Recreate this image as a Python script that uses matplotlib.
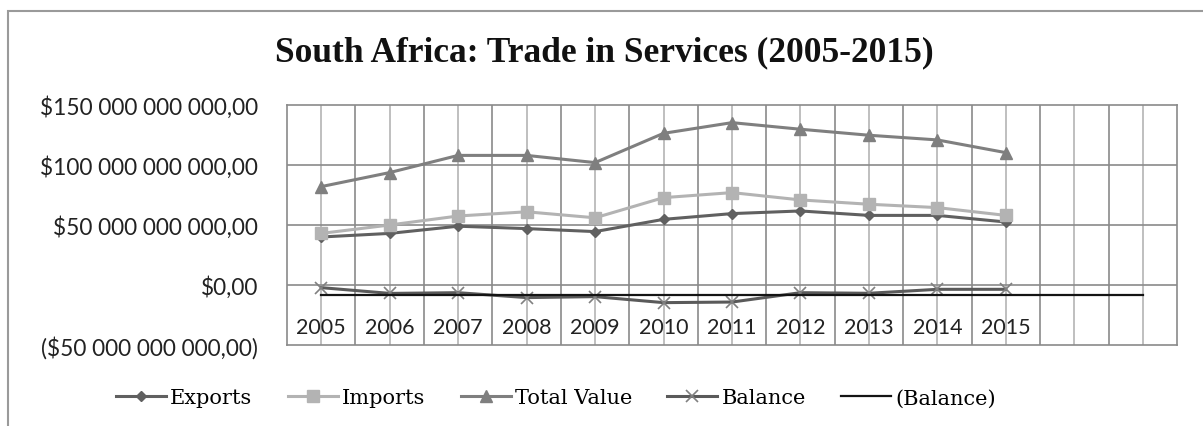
import matplotlib.pyplot as plt
from matplotlib.patches import Rectangle
from matplotlib.ticker import FuncFormatter, FixedLocator

# Trade in services, US$ billions
years = ["2005", "2006", "2007", "2008", "2009", "2010",
         "2011", "2012", "2013", "2014", "2015"]
extra_slots = ["", ""]
exports = [40.0, 43.0, 49.0, 47.0, 44.5, 54.7, 59.5, 61.7, 58.0, 58.0, 52.5]
imports = [43.0, 50.0, 57.5, 61.0, 56.0, 72.8, 77.0, 70.9, 67.3, 64.5, 58.0]
total_value = [82.0, 93.7, 108.0, 108.0, 102.0, 126.4, 135.3, 129.8, 124.8, 120.9, 110.3]
balance = [-2.2, -7.0, -6.4, -10.5, -9.7, -14.7, -14.2, -6.4, -6.9, -3.6, -3.6]
balance_ref = [-8.0] * 13

categories = years + extra_slots
B = 1e9

W, H = 1203, 427
fig = plt.figure(figsize=(W / 100, H / 100), dpi=100)

# chart-area frame
fig.patches.append(Rectangle((8 / W, -0.2), 1.2, 1.2 - 12 / H,
                             transform=fig.transFigure, fill=False,
                             edgecolor="#9a9a9a", linewidth=1.5))

ax = fig.add_axes([287 / W, 1 - 346 / H, 890 / W, 240 / H])
x_all = list(range(len(categories)))
x = x_all[:len(years)]

ax.set_xlim(-0.5, len(categories) - 0.5)
ax.set_ylim(-50 * B, 150 * B)

# grid: category boundaries, category centres, value lines
for b in range(1, len(categories)):
    ax.axvline(b - 0.5, color="#8a8a8a", lw=1.2, zorder=1)
for c in x_all:
    ax.axvline(c, color="#b4b4b4", lw=1.2, zorder=1)
for v in (0, 50, 100):
    ax.axhline(v * B, color="#8a8a8a", lw=1.2, zorder=1)
for s in ax.spines.values():
    s.set_color("#8a8a8a")
    s.set_linewidth(1.2)

ax.plot(x, [v * B for v in exports], color="#606060", lw=2.2, marker="D",
        ms=5, label="Exports", zorder=3)
ax.plot(x, [v * B for v in imports], color="#b3b3b3", lw=2.2, marker="s",
        ms=9, label="Imports", zorder=3)
ax.plot(x, [v * B for v in total_value], color="#7f7f7f", lw=2.2, marker="^",
        ms=9, label="Total Value", zorder=3)
ax.plot(x, [v * B for v in balance], color="#5a5a5a", lw=2.2, marker="x",
        ms=8, mew=1.2, mec="#808080", label="Balance", zorder=3)
ax.plot(x_all, [v * B for v in balance_ref], color="#141414", lw=1.6,
        label="(Balance)", zorder=4)


def money(v, pos=None):
    s = "${:,.2f}".format(abs(v)).replace(",", " ").replace(".", ",")
    return "(" + s + ")" if v < 0 else s


ax.yaxis.set_major_locator(FixedLocator([v * B for v in (-50, 0, 50, 100, 150)]))
ax.yaxis.set_major_formatter(FuncFormatter(money))
ax.tick_params(axis="y", length=0, pad=21, labelsize=16.3, labelcolor="#222222")
for t in ax.get_yticklabels():
    t.set_family("Lato")
ax.set_xticks([])

# year labels sit just under the zero line
for xi, lab in zip(x_all, categories):
    ax.text(xi, -35 * B, lab, ha="center", va="center", fontsize=15.5,
            family="Lato", color="#222222", zorder=5)

fig.text(604 / W, 1 - 53 / H, "South Africa: Trade in Services (2005-2015)",
         ha="center", va="center", fontsize=25.5, fontweight="bold",
         family="Liberation Serif", color="#111111")

fig.legend(loc="center", bbox_to_anchor=(556 / W, 1 - 399 / H), ncol=5,
           frameon=False, prop={"family": "DejaVu Serif", "size": 15},
           handlelength=2.4, handletextpad=0.2, columnspacing=1.7)

fig.savefig("out.png", dpi=100)
